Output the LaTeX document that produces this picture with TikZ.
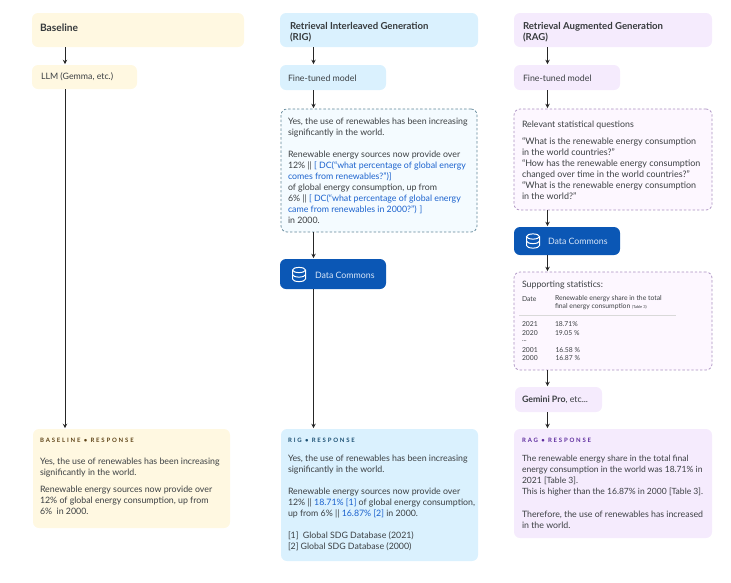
\documentclass[tikz,border=0pt]{standalone}
\usepackage{fontspec}
\setmainfont{Lato}
\newfontfamily\trackfont[LetterSpace=30,BoldFont={Lato Bold}]{Lato}
\usetikzlibrary{arrows.meta}
\definecolor{ybg}{HTML}{FFF8E1}
\definecolor{bbg}{HTML}{DAF1FE}
\definecolor{pbg}{HTML}{F5EBFD}
\definecolor{bdash}{HTML}{F4FBFF}
\definecolor{pdash}{HTML}{FDF7FF}
\definecolor{bedge}{HTML}{5F8597}
\definecolor{pedge}{HTML}{A98FC0}
\definecolor{dcblue}{HTML}{0B57B5}
\definecolor{link}{HTML}{1B62CE}
\definecolor{ink}{HTML}{3C4043}
\definecolor{ylab}{HTML}{5F4418}
\definecolor{blab}{HTML}{1B4F72}
\definecolor{plab}{HTML}{5E2C9E}
\definecolor{dctext}{HTML}{D8E6F8}
\tikzset{
  boxshape/.style={anchor=north west,inner sep=0pt,outer sep=0pt,rounded corners=6pt},
  yfill/.style={boxshape,fill=ybg},
  bfill/.style={boxshape,fill=bbg},
  pfill/.style={boxshape,fill=pbg},
  bdashed/.style={boxshape,fill=bdash,draw=bedge,line width=.7pt,dash pattern=on 2.4pt off 2pt},
  pdashed/.style={boxshape,fill=pdash,draw=pedge,line width=.7pt,dash pattern=on 2.4pt off 2pt},
  dcbox/.style={boxshape,fill=dcblue},
  txt/.style={anchor=west,inner sep=0pt,outer sep=0pt,align=left,text=ink,font=\fontsize{8.8}{10.95}\selectfont},
  ragtxt/.style={txt,font=\fontsize{8.55}{10.95}\selectfont},
  qtxt/.style={txt,font=\fontsize{8.95}{10.95}\selectfont},
  head/.style={txt,font=\fontsize{9.6}{11}\selectfont\bfseries,text=ink!90!black},
  lab/.style={anchor=west,inner sep=0pt,font=\fontsize{6}{7}\trackfont\bfseries},
  tiny/.style={txt,font=\fontsize{6.8}{8}\selectfont},
  flow/.style={draw=black!85,line width=.8pt,-{Stealth[length=4.5pt,width=4.5pt]},shorten >=.8pt},
  dbicon/.style={draw=white,line width=1pt}
}
\newcommand{\bx}[6]{\node[#6,minimum width={(#4-#2)*1pt},minimum height={(#5-#3)*1pt}] (#1) at (#2,#3) {};}
\newcommand{\dbglyph}[2]{%
  \draw[dbicon] (#1,#2-4.5) ellipse[x radius=6.5,y radius=2.6];
  \draw[dbicon] (#1-6.5,#2-4.5) -- (#1-6.5,#2+4.5) arc[start angle=180,end angle=0,x radius=6.5,y radius=2.6] -- (#1+6.5,#2-4.5);
  \draw[dbicon] (#1-6.5,#2) arc[start angle=180,end angle=0,x radius=6.5,y radius=2.6];
}
\begin{document}
\begin{tikzpicture}[x=1pt,y=-1pt]
\useasboundingbox (0,0) rectangle (731,582);
\coordinate (cola) at (65,0);
\coordinate (colb) at (313.5,0);
\coordinate (colc) at (547.5,0);
% Baseline column
\bx{bhead}{32}{13}{244}{47}{yfill}
\bx{bllm}{32}{65}{137}{89}{yfill}
\bx{bresp}{33}{429}{230}{528}{yfill}
% RIG column
\bx{rhead}{280}{13}{478}{47}{bfill}
\bx{rtuned}{280}{65}{386}{90}{bfill}
\bx{rdash}{281}{109}{477}{232}{bdashed}
\bx{rdc}{280}{259}{386}{289}{dcbox}
\bx{rresp}{281}{429}{478}{561}{bfill}
% RAG column
\bx{ghead}{514}{13}{712}{47}{pfill}
\bx{gtuned}{514}{65}{620}{90}{pfill}
\bx{gdash}{514}{109}{712}{210}{pdashed}
\bx{gdc}{514}{227}{620}{255}{dcbox}
\bx{gstats}{514}{272}{712}{370}{pdashed}
\bx{ggem}{515}{387}{602}{412}{pfill}
\bx{gresp}{514}{429}{712}{538}{pfill}
% connectors
\draw[flow] (bhead.south -| cola) -- (bllm.north -| cola);
\draw[flow] (bllm.south -| cola) -- (bresp.north -| cola);
\draw[flow] (rhead.south -| colb) -- (rtuned.north -| colb);
\draw[flow] (rtuned.south -| colb) -- (rdash.north -| colb);
\draw[flow] (rdash.south -| colb) -- (rdc.north -| colb);
\draw[flow] (rdc.south -| colb) -- (rresp.north -| colb);
\draw[flow] (ghead.south -| colc) -- (gtuned.north -| colc);
\draw[flow] (gtuned.south -| colc) -- (gdash.north -| colc);
\draw[flow] (gdash.south -| colc) -- (gdc.north -| colc);
\draw[flow] (gdc.south -| colc) -- (gstats.north -| colc);
\draw[flow] (gstats.south -| colc) -- (ggem.north -| colc);
\draw[flow] (ggem.south -| colc) -- (gresp.north -| colc);
% Baseline texts
\node[head,font=\fontsize{10.2}{11}\selectfont\bfseries] (t1) at (40,28) {Baseline};
\node[txt] (t2) at (41,77) {LLM (Gemma, etc.)};
\node[lab,text=ylab] (t3) at (40,440) {BASELINE • RESPONSE};
\node[txt] (t4) at (40,467.5) {Yes, the use of renewables has been increasing\\significantly in the world.};
\node[txt] (t5) at (40,500) {Renewable energy sources now provide over\\12\% of global energy consumption, up from\\6\%\ \ in 2000.};
% RIG texts
\node[head] (t6) at (290,32) {Retrieval Interleaved Generation\\(RIG)};
\node[txt] (t7) at (288,78) {Fine-tuned model};
\node[txt] (t8) at (288,127.5) {Yes, the use of renewables has been increasing\\significantly in the world.};
\node[txt] (t9) at (288,187.5) {Renewable energy sources now provide over\\12\% || \textcolor{link}{[ DC(“what percentage of global energy}\\\textcolor{link}{comes from renewables?”)]}\\of global energy consumption, up from\\6\% || \textcolor{link}{[ DC(“what percentage of global energy}\\\textcolor{link}{came from renewables in 2000?”) ]}\\in 2000.};
\dbglyph{299}{274.5}
\node[txt,text=dctext] (t10) at (315,275) {Data Commons};
\node[lab,text=blab] (t11) at (288,440) {RIG • RESPONSE};
\node[txt] (t12) at (288,464.5) {Yes, the use of renewables has been increasing\\significantly in the world.};
\node[txt] (t13) at (288,503) {Renewable energy sources now provide over\\12\% || \textcolor{link}{18.71\% [1]} of global energy consumption,\\up from 6\% || \textcolor{link}{16.87\% [2]} in 2000.};
\node[txt] (t14) at (288,541.5) {[1]\ \ Global SDG Database (2021)\\{}[2] Global SDG Database (2000)};
% RAG texts
\node[head] (t15) at (523,32) {Retrieval Augmented Generation\\(RAG)};
\node[txt] (t16) at (523,78) {Fine-tuned model};
\node[txt] (t17) at (522,125) {Relevant statistical questions};
\node[qtxt] (t18) at (522,168.5) {“What is the renewable energy consumption\\in the world countries?”\\“How has the renewable energy consumption\\changed over time in the world countries?”\\“What is the renewable energy consumption\\in the world?”};
\dbglyph{533}{241}
\node[txt,text=dctext] (t19) at (548,241) {Data Commons};
\node[txt] (t20) at (522,285) {Supporting statistics:};
\node[tiny] (t21) at (522,299) {Date};
\node[tiny] (t22) at (555,303) {Renewable energy share in the total\\final energy consumption {\fontsize{4}{4}\selectfont (Table 3)}};
\path (519,315) coordinate (rulea) (676,315) coordinate (ruleb);
\draw[black!15,line width=.6pt] (rulea) -- (ruleb);
\node[tiny] (t23) at (522,324) {2021};
\node[tiny] (t24) at (555,324) {18.71\%};
\node[tiny] (t25) at (522,332.7) {2020};
\node[tiny] (t26) at (555,332.7) {19.05 \%};
\node[tiny] (t27) at (522,341) {...};
\node[tiny] (t28) at (522,349.7) {2001};
\node[tiny] (t29) at (555.5,349.7) {16.58 \%};
\node[tiny] (t30) at (522,358) {2000};
\node[tiny] (t31) at (555.5,358) {16.87 \%};
\node[txt] (t32) at (522,400) {\textbf{Gemini Pro}, etc...};
\node[lab,text=plab] (t33) at (522,440) {RAG • RESPONSE};
\node[ragtxt] (t34) at (522,475.5) {The renewable energy share in the total final\\energy consumption in the world was 18.71\% in\\2021 [Table 3].\\This is higher than the 16.87\% in 2000 [Table 3].};
\node[txt] (t35) at (522,519.5) {Therefore, the use of renewables has increased\\in the world.};
\end{tikzpicture}
\end{document}
